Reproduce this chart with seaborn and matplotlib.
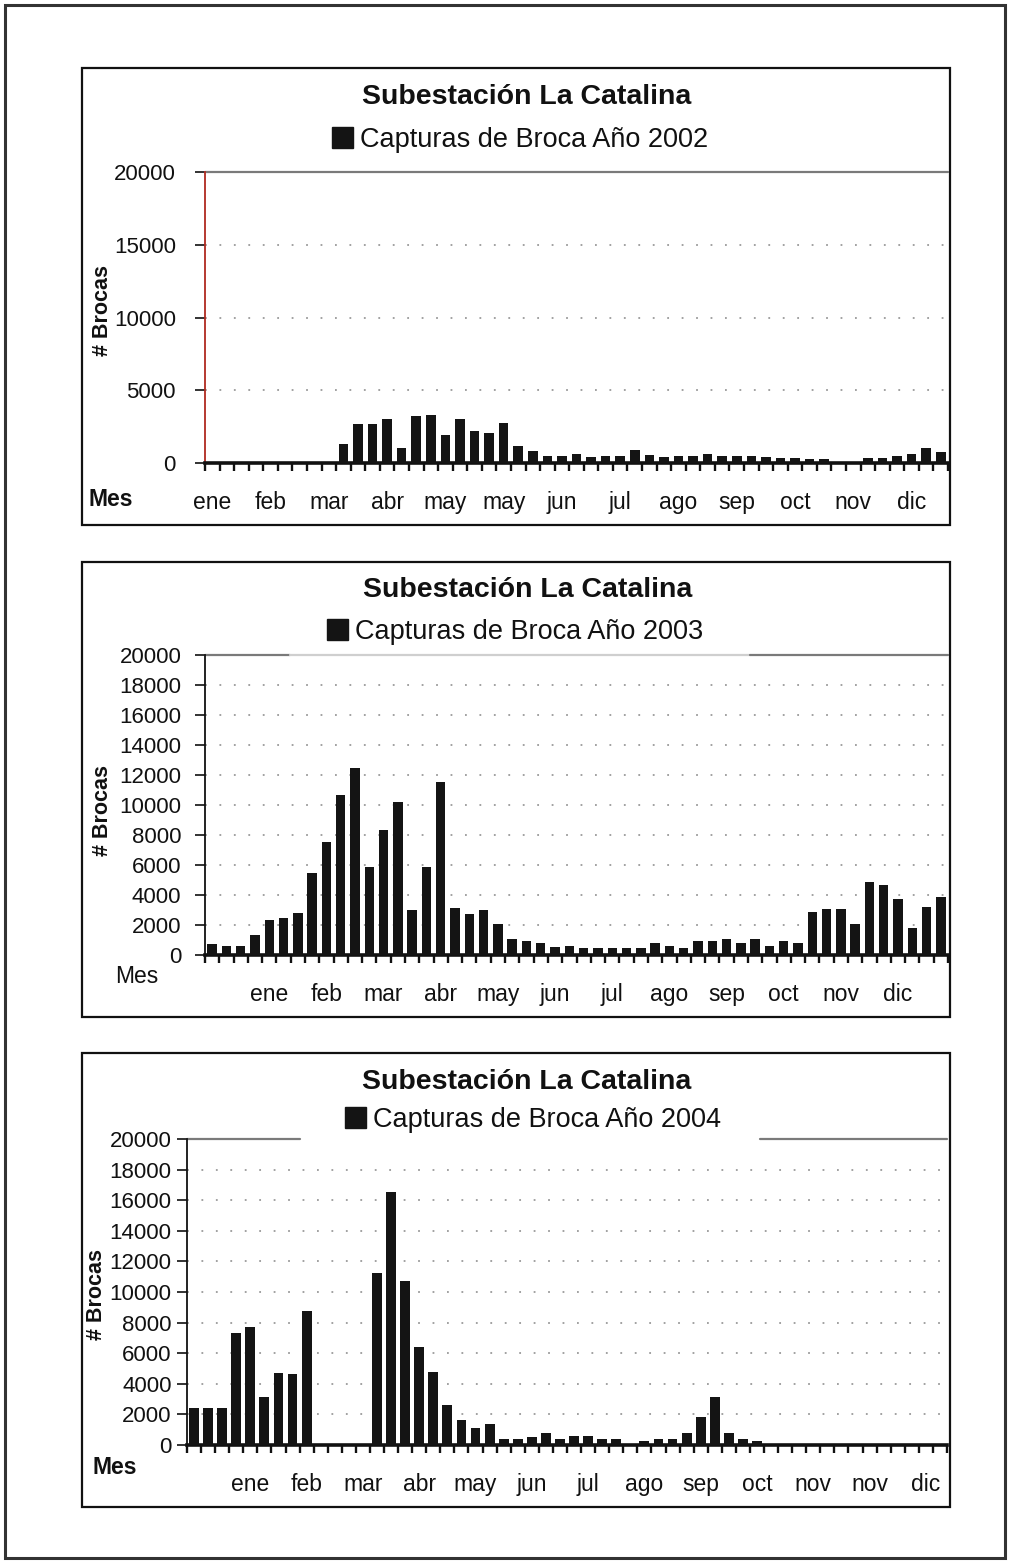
import matplotlib
matplotlib.use("Agg")
import matplotlib.pyplot as plt
import seaborn as sns
import pandas as pd
import numpy as np
from matplotlib.patches import Patch, Rectangle

# Weekly borer-beetle trap captures, one value per week slot
captures_2002 = [0, 0, 0, 0, 0, 0, 0, 0, 0,
                 1300, 2700, 2700, 3000, 1050, 3200, 3300, 1900, 3000,
                 2200, 2050, 2750, 1200, 800, 480, 480, 600,
                 400, 450, 450, 900, 550, 400, 450, 450, 650,
                 500, 450, 450, 400, 350, 350, 300, 250,
                 0, 0, 350, 350, 450, 600, 1050, 750]

captures_2003 = [730, 600, 600, 1330, 2310, 2440, 2800, 5440, 7510, 10690,
                 12470, 5890, 8360, 10220, 3000, 5890, 11510, 3130, 2730, 3020,
                 2040, 1040, 930, 780, 510, 620, 450, 450, 450, 450,
                 490, 780, 620, 490, 930, 930, 1050, 780, 1050, 620,
                 930, 780, 2840, 3040, 3040, 2070, 4840, 4670, 3710, 1780,
                 3180, 3840]

captures_2004 = [2450, 2450, 2450, 7350, 7700, 3120, 4730, 4620, 8780,
                 0, 0, 0, 0,
                 11260, 16540, 10720, 6390, 4750, 2590, 1630, 1090, 1370,
                 370, 370, 540, 800, 370, 590, 590, 370, 370,
                 0,
                 260, 390, 390, 800, 1810, 3120, 800, 410, 260,
                 0, 0, 0, 0, 0, 0, 0, 0, 0, 0, 0, 0, 0]

months_2002 = ["ene", "feb", "mar", "abr", "may", "may", "jun",
               "jul", "ago", "sep", "oct", "nov", "dic"]
months_2003 = ["ene", "feb", "mar", "abr", "may", "jun",
               "jul", "ago", "sep", "oct", "nov", "dic"]
months_2004 = ["ene", "feb", "mar", "abr", "may", "jun",
               "jul", "ago", "sep", "oct", "nov", "nov", "dic"]

years = ["2002", "2003", "2004"]
title_text = "Subestación La Catalina"

sns.set_theme(style="white")
plt.rcParams["font.family"] = ["Liberation Sans", "DejaVu Sans"]

W, H = 1010, 1564
fig = plt.figure(figsize=(W / 100, H / 100), dpi=100)
BAR = "#141414"


def fx(x):
    return x / W


def fy(y):
    return 1 - y / H


def draw_panel(values, months, first_label, ystep, year, box, plot,
               title_xy, legend_xy, mes_xy, mes_bold, ylabel_xy, left_color,
               ypad, top_segments, bar_width):
    # outer frame of the chart
    fig.patches.append(Rectangle((fx(box[0]), fy(box[3])),
                                 fx(box[2] - box[0]), (box[3] - box[1]) / H,
                                 transform=fig.transFigure, fill=False,
                                 edgecolor="#111111", linewidth=1.6))
    ax = fig.add_axes([fx(plot[0]), fy(plot[3]),
                       fx(plot[2] - plot[0]), (plot[3] - plot[1]) / H])
    n = len(values)
    df = pd.DataFrame({"semana": np.arange(n), "capturas": values})
    sns.barplot(data=df, x="semana", y="capturas", order=list(range(n)),
                color=BAR, saturation=1, width=bar_width, linewidth=0, ax=ax,
                zorder=3)
    ax.set_xlim(-0.5, n - 0.5)
    ax.set_ylim(0, 20000)
    ax.set_xlabel("")
    ax.set_ylabel("")

    yt = np.arange(0, 20001, ystep)
    ax.set_yticks(yt)
    ax.set_yticklabels([str(v) for v in yt])
    for v in yt[1:-1]:
        ax.axhline(v, color="#9a9a9a", lw=1.3, ls=(0, (1, 7)), zorder=1)
    # top boundary line at the axis maximum, broken where the legend sits
    for x0, x1, col in top_segments:
        ax.axhline(20000, xmin=x0, xmax=x1, color=col, lw=1.6,
                   clip_on=False, zorder=2)

    ax.set_xticks([first_label + 4 * i for i in range(len(months))])
    ax.set_xticklabels(months)
    ax.set_xticks(np.arange(n + 1) - 0.5, minor=True)
    ax.tick_params(axis="x", which="major", bottom=True, length=0, pad=20,
                   labelsize=16.5, colors="#111111")
    ax.tick_params(axis="x", which="minor", bottom=True, length=6, width=1.7,
                   direction="out", color="#111111")
    ax.tick_params(axis="y", which="major", left=True, length=7, width=1.2,
                   direction="out", labelsize=16, pad=ypad, colors="#111111")

    ax.spines["right"].set_visible(False)
    ax.spines["top"].set_visible(False)
    ax.spines["left"].set_color(left_color)
    ax.spines["left"].set_linewidth(1.3)
    ax.spines["bottom"].set_color("#111111")
    ax.spines["bottom"].set_linewidth(2.6)
    ax.set_facecolor("white")

    fig.text(fx(title_xy[0]), fy(title_xy[1]), title_text, ha="center",
             va="center", fontsize=20.5, fontweight="bold", color="#111111")
    fig.legend(handles=[Patch(facecolor=BAR, edgecolor=BAR)],
               labels=[f"Capturas de Broca Año {year}"], loc="center",
               bbox_to_anchor=(fx(legend_xy[0]), fy(legend_xy[1])),
               fontsize=19.5, frameon=False, handlelength=0.8,
               handleheight=0.8, handletextpad=0.25, borderpad=0.3,
               labelcolor="#111111")
    fig.text(fx(mes_xy[0]), fy(mes_xy[1]), "Mes", ha="left", va="center",
             fontsize=16.5, fontweight="bold" if mes_bold else "normal",
             color="#111111")
    fig.text(fx(ylabel_xy[0]), fy(ylabel_xy[1]), "# Brocas", ha="center",
             va="center", rotation=90, fontsize=15.5, fontweight="bold",
             color="#111111")
    return ax


GRAY = "#7a7a7a"
draw_panel(captures_2002, months_2002, 0, 5000, years[0],
           box=(82, 68, 950, 525), plot=(205, 172, 948, 463),
           title_xy=(527, 97), legend_xy=(520, 140), mes_xy=(88, 500),
           mes_bold=True, ylabel_xy=(103, 310), left_color="#b02a20",
           ypad=14, top_segments=[(0, 1, GRAY)], bar_width=0.66)
draw_panel(captures_2003, months_2003, 4, 2000, years[1],
           box=(82, 562, 950, 1017), plot=(205, 655, 948, 955),
           title_xy=(528, 590), legend_xy=(515, 632), mes_xy=(115, 977),
           mes_bold=False, ylabel_xy=(103, 810), left_color="#111111",
           ypad=10, top_segments=[(0, 0.115, GRAY), (0.115, 0.733, "#cfcfcf"),
                                  (0.733, 1, GRAY)], bar_width=0.66)
draw_panel(captures_2004, months_2004, 4, 2000, years[2],
           box=(82, 1053, 950, 1507), plot=(187, 1139, 947, 1445),
           title_xy=(527, 1082), legend_xy=(533, 1120), mes_xy=(93, 1468),
           mes_bold=True, ylabel_xy=(97, 1295), left_color="#111111",
           ypad=4, top_segments=[(0, 0.149, GRAY), (0.754, 1, GRAY)],
           bar_width=0.7)

# page border
fig.patches.append(Rectangle((fx(5), fy(1558)), fx(1000), 1553 / H,
                             transform=fig.transFigure, fill=False,
                             edgecolor="#333333", linewidth=2.2))

fig.savefig("out.png", dpi=100, facecolor="white")
